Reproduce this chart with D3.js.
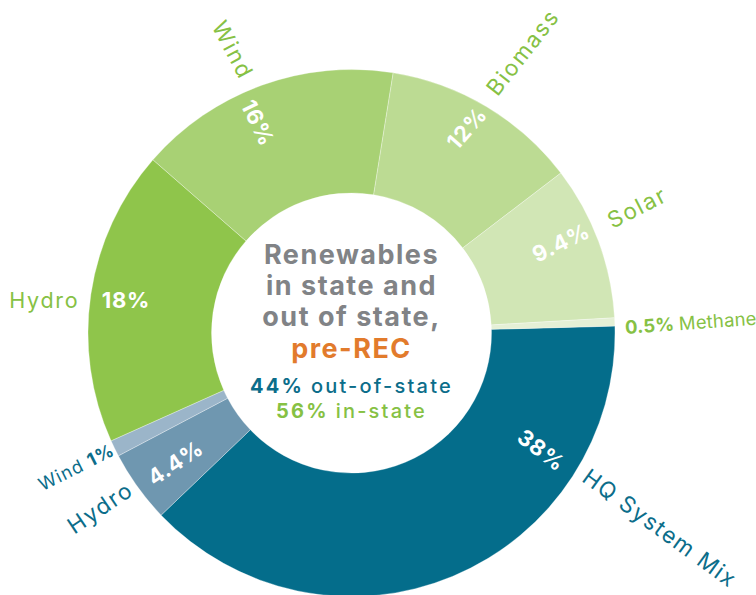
<!DOCTYPE html>
<html>
<head>
<meta charset="utf-8">
<script src="https://cdn.jsdelivr.net/npm/d3@7/dist/d3.min.js"></script>
<style>
  html, body { margin: 0; padding: 0; background: #ffffff; }
  svg { display: block; font-family: Inter, "Open Sans", sans-serif; }
</style>
</head>
<body>
<svg id="chart" width="756" height="595"></svg>
<script>
// Renewable supply mix, pre-REC: out-of-state slices first, then in-state.
const categories = ["HQ System Mix", "Hydro", "Wind", "Hydro", "Wind", "Biomass", "Solar", "Methane"];
const shares     = [38, 4.4, 1, 18, 16, 12, 9.4, 0.5];
const origins    = ["out", "out", "out", "in", "in", "in", "in", "in"];
const sliceColors = ["#046d8b", "#6f97b0", "#9bb5c9", "#8fc54b", "#a8d174", "#bcdb93", "#d1e6b5", "#e5f0d6"];
const originShares = { out: 44, in: 56 };
const titleLines = ["Renewables", "in state and", "out of state,"];
const subtitle = "pre-REC";

// Label placement around each slice: angle offset from the slice middle (deg),
// radius, rotation, letter spacing. Null means no label of that kind.
const pctPlacement = [
  { da: -35.7, r: 223, rot: 37.5 },
  { da: -0.6,  r: 219, rot: -34 },
  null,
  { da: -0.2,  r: 228, rot: 0 },
  { da: -4.1,  r: 230, rot: 64 },
  { da: -1.5,  r: 235, rot: -49 },
  { da: -3.0,  r: 228, rot: -26 },
  null
];
const namePlacement = [
  { da: -35.1, r: 365, rot: 36,    size: 22.5, ls: 0.07 },
  { da: 1.0,   r: 306, rot: -34,   size: 22.5, ls: 0.08 },
  { da: 0.0,   r: 306, rot: -26.6, size: 18,   ls: 0.06, withValue: "after" },
  { da: -2.3,  r: 309, rot: 0,     size: 21.5, ls: 0.08 },
  { da: -2.8,  r: 307, rot: 62,    size: 22.5, ls: 0.08 },
  { da: 0.5,   r: 329, rot: -52,   size: 22.5, ls: 0.08 },
  { da: -3.4,  r: 312, rot: -27,   size: 22.5, ls: 0.08 },
  { da: 2.6,   r: 274, rot: -4,    size: 18.5, ls: 0.01, withValue: "before", anchor: "start" }
];

const teal = "#0b6d8a", green = "#86c144", grey = "#818386", orange = "#e27b2c";

const svg = d3.select("#chart");
const cx = 351.5, cy = 333;
const outerR = 263.5, innerR = 140;
const g = svg.append("g").attr("transform", `translate(${cx},${cy})`);

const startDeg = 88.5;
const pie = d3.pie().sort(null).value(d => d)
  .startAngle(startDeg * Math.PI / 180)
  .endAngle((startDeg + 360) * Math.PI / 180);
const arcs = pie(shares);
const arc = d3.arc().innerRadius(innerR).outerRadius(outerR);

g.selectAll("path.slice")
  .data(arcs)
  .enter().append("path")
  .attr("class", "slice")
  .attr("d", arc)
  .attr("fill", (d, i) => sliceColors[i])
  .attr("stroke", "#ffffff")
  .attr("stroke-opacity", 0.5)
  .attr("stroke-width", 0.6);

function polar(d, da, r) {
  const a = (d.startAngle + d.endAngle) / 2 + da * Math.PI / 180;
  return [r * Math.sin(a), -r * Math.cos(a)];
}

// Percentages inside the ring
arcs.forEach((d, i) => {
  const p = pctPlacement[i];
  if (!p) return;
  const [x, y] = polar(d, p.da, p.r);
  g.append("text")
    .attr("transform", `translate(${x},${y}) rotate(${p.rot})`)
    .attr("text-anchor", "middle")
    .attr("dy", "0.36em")
    .attr("fill", "#ffffff")
    .attr("font-size", 22)
    .attr("font-weight", 700)
    .attr("letter-spacing", "0.03em")
    .text(shares[i] + "%");
});

// Source names around the ring
arcs.forEach((d, i) => {
  const p = namePlacement[i];
  const [x, y] = polar(d, p.da, p.r);
  const color = origins[i] === "out" ? teal : green;
  const t = g.append("text")
    .attr("transform", `translate(${x},${y}) rotate(${p.rot})`)
    .attr("text-anchor", p.anchor || "middle")
    .attr("dy", p.anchor ? null : "0.36em")
    .attr("fill", color)
    .attr("font-size", p.size)
    .attr("font-weight", 400)
    .attr("letter-spacing", p.ls + "em");
  if (p.withValue === "before") {
    t.append("tspan").attr("font-weight", 700).text(shares[i] + "% ");
    t.append("tspan").text(categories[i]);
  } else if (p.withValue === "after") {
    t.append("tspan").text(categories[i] + " ");
    t.append("tspan").attr("font-weight", 700).text(shares[i] + "%");
  } else {
    t.text(categories[i]);
  }
});

// Centre title
const title = g.append("g").attr("text-anchor", "middle");
titleLines.forEach((line, k) => {
  title.append("text")
    .attr("x", 0).attr("y", -69 + k * 31)
    .attr("fill", grey)
    .attr("font-size", 27)
    .attr("font-weight", 700)
    .attr("letter-spacing", 1.5)
    .text(line);
});
title.append("text")
  .attr("x", 0).attr("y", 25)
  .attr("fill", orange)
  .attr("font-size", 27)
  .attr("font-weight", 700)
  .attr("letter-spacing", 1.5)
  .text(subtitle);

const outLine = title.append("text").attr("x", 0).attr("y", 60)
  .attr("fill", teal).attr("font-size", 20).attr("letter-spacing", 2.2);
outLine.append("tspan").attr("font-weight", 700).text(originShares.out + "% ");
outLine.append("tspan").attr("font-weight", 500).text("out-of-state");

const inLine = title.append("text").attr("x", 0).attr("y", 85)
  .attr("fill", green).attr("font-size", 20).attr("letter-spacing", 2.2);
inLine.append("tspan").attr("font-weight", 700).text(originShares.in + "% ");
inLine.append("tspan").attr("font-weight", 500).text("in-state");
</script>
</body>
</html>
